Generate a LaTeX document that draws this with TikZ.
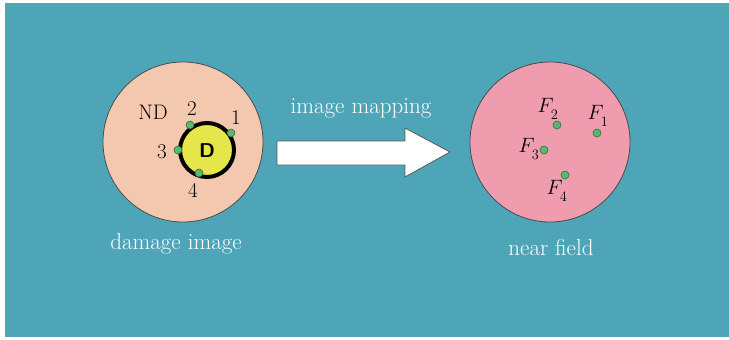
\documentclass[tikz,border=0pt]{standalone}
\usepackage{fontspec}
\definecolor{bgteal}{HTML}{4EA5B8}
\definecolor{peach}{HTML}{F4C8AE}
\definecolor{pinkc}{HTML}{EE9CAE}
\definecolor{yel}{HTML}{E6E64A}
\definecolor{dotg}{HTML}{5CB86C}
\definecolor{dotd}{HTML}{2E6E3A}
\newcommand{\lowsub}[1]{_{\lower4pt\hbox{$\scriptstyle #1$}}}
\begin{document}
\begin{tikzpicture}[x=1pt,y=-1pt,
  big/.style={circle,draw=black!70,line width=0.8pt,minimum size=160pt,inner sep=0pt},
  dot/.style={circle,fill=dotg,draw=dotd,line width=0.6pt,minimum size=8pt,inner sep=0pt},
  lbl/.style={font=\fontsize{21}{24}\selectfont,inner sep=0pt},
  flbl/.style={font=\fontsize{22}{26}\selectfont,inner sep=0pt},
  wlbl/.style={font=\fontsize{23}{26}\selectfont,text=white,inner sep=0pt}]
\useasboundingbox (0,0) rectangle (729,340);
\fill[white] (0,0) rectangle (729,340);
\fill[bgteal] (5,3) rectangle (729,337);
% left circle
\node[big,fill=peach] (L) at (183,142) {};
\node[circle,fill=yel,draw=black,line width=4pt,minimum size=54pt,inner sep=0pt] (Y) at (207,150) {};
\node[font=\sffamily\bfseries\fontsize{20}{23}\selectfont] (D) at (207,151) {D};
\node[dot] (p1) at (231,133) {};
\node[dot] (p2) at (190,125) {};
\node[dot] (p3) at (178,150) {};
\node[dot] (p4) at (199,173) {};
\node[lbl] (ND) at (153,112) {ND};
\node[lbl] (l2) at (192,109) {2};
\node[lbl] (l1) at (236,118) {1};
\node[lbl] (l3) at (162,152) {3};
\node[lbl] (l4) at (193,190) {4};
\node[wlbl] (dmg) at (176,244) {damage image};
% arrow
\draw[draw=black!65,line width=0.8pt,fill=white,line join=miter]
  (277,141) -- (405,141) -- (405,128) -- (450,152) -- (405,177) -- (405,165) -- (277,165) -- cycle;
\node[wlbl] (map) at (361,108) {image mapping};
% right circle
\node[big,fill=pinkc] (R) at (550,142) {};
\node[dot] (f1) at (597,133) {};
\node[dot] (f2) at (557,125) {};
\node[dot] (f3) at (544,150) {};
\node[dot] (f4) at (565,175) {};
\node[flbl] (F1) at (598,116) {$F\lowsub{1}$};
\node[flbl] (F2) at (548,109) {$F\lowsub{2}$};
\node[flbl] (F3) at (529,149) {$F\lowsub{3}$};
\node[flbl] (F4) at (557,191) {$F\lowsub{4}$};
\node[wlbl] (nf) at (551,248) {near field};
\end{tikzpicture}
\end{document}
